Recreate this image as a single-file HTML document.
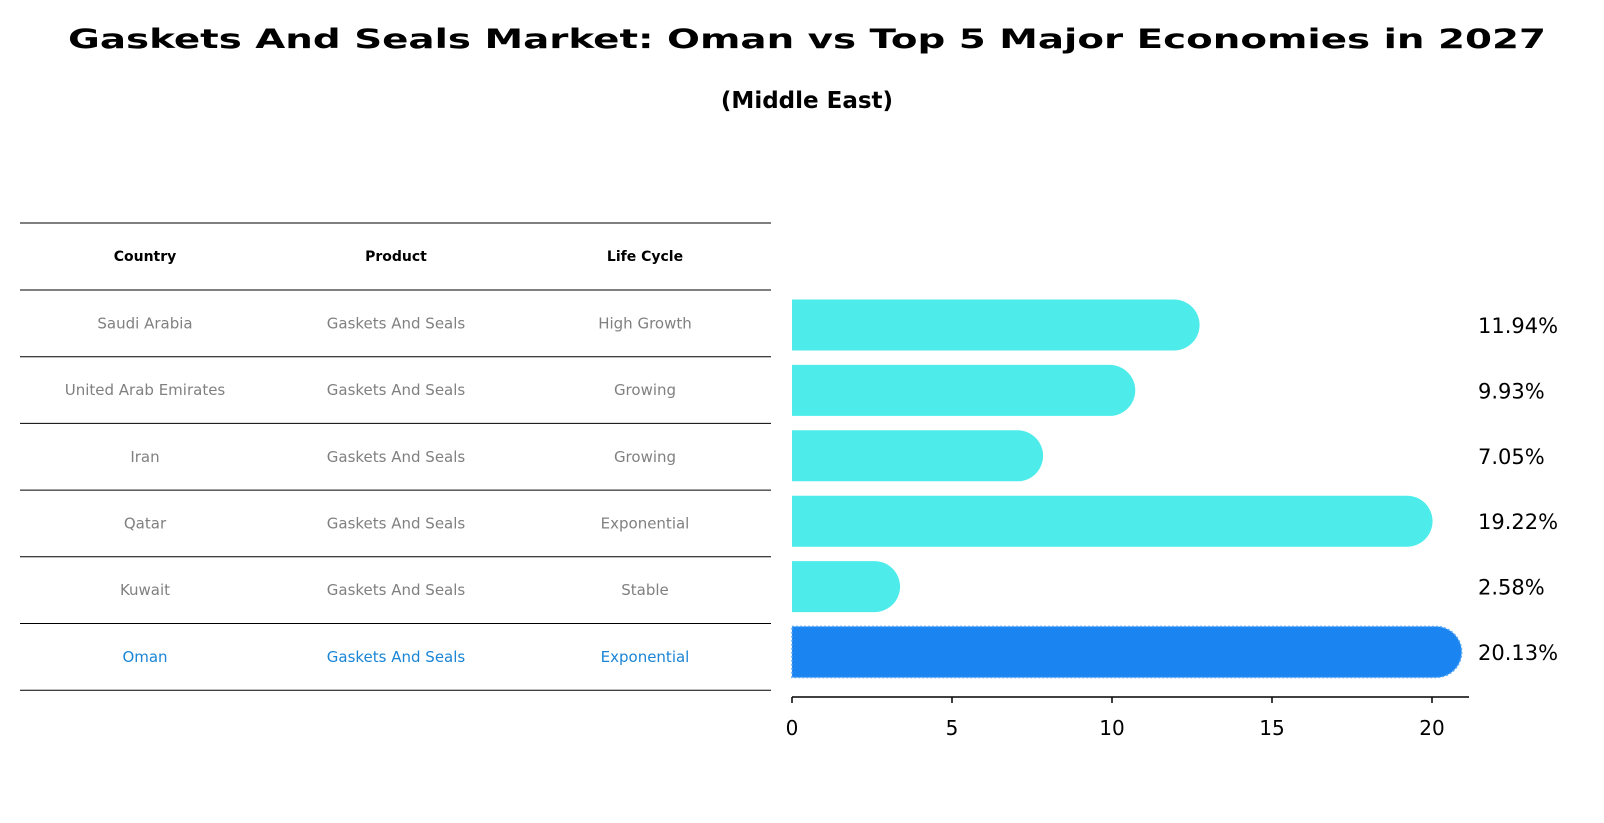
<!DOCTYPE html>
<html><head><meta charset="utf-8"><style>
html,body{margin:0;padding:0;background:#fff;}
svg{display:block;font-family:"DejaVu Sans","Liberation Sans",sans-serif;}
</style></head><body>
<svg id="chart" width="1604" height="823" viewBox="0 0 1604 823">
<text x="807" y="48" text-anchor="middle" font-size="27" font-weight="bold" textLength="1478" lengthAdjust="spacingAndGlyphs">Gaskets And Seals Market: Oman vs Top 5 Major Economies in 2027</text>
<text x="807" y="108" text-anchor="middle" font-size="23" font-weight="bold">(Middle East)</text>
<g id="table"></g>
<g id="bars"></g>
<g id="axis"></g>
</svg>
<script>
const countries = ["Saudi Arabia","United Arab Emirates","Iran","Qatar","Kuwait","Oman"];
const products = ["Gaskets And Seals","Gaskets And Seals","Gaskets And Seals","Gaskets And Seals","Gaskets And Seals","Gaskets And Seals"];
const lifeCycles = ["High Growth","Growing","Growing","Exponential","Stable","Exponential"];
const values = [11.94,9.93,7.05,19.22,2.58,20.13];
const valueLabels = ["11.94%","9.93%","7.05%","19.22%","2.58%","20.13%"];
const ticks = [0,5,10,15,20];

const NS="http://www.w3.org/2000/svg";
function mk(tag,attrs,parent){const e=document.createElementNS(NS,tag);for(const k in attrs)e.setAttribute(k,attrs[k]);parent.appendChild(e);return e;}
const x0=792, pxPerUnit=32;
const xs=v=>x0+v*pxPerUnit;
const rowY=i=>325+i*65.4;
const barH=51;

// table
const tbl=document.getElementById('table');
const lineYs=[223,290];
for(let i=0;i<countries.length;i++) lineYs.push(290+(i+1)*66.7);
lineYs.forEach((y,i)=>{
  const l=mk('line',{x1:20,x2:771,y1:y,y2:y,stroke:'#000','stroke-width':1},tbl);
  
  
});
const colX=[145,396,645];
["Country","Product","Life Cycle"].forEach((h,j)=>{
  const t=mk('text',{x:colX[j],y:261,'text-anchor':'middle','font-size':14,'font-weight':'bold'},tbl);
  t.textContent=h;
  
  
});
countries.forEach((c,i)=>{
  const y=(lineYs[i+1]+lineYs[i+2])/2+5;
  const col=i===countries.length-1?'#1a85d6':'#808080';
  [c,products[i],lifeCycles[i]].forEach((txt,j)=>{
    const t=mk('text',{x:colX[j],y:y,'text-anchor':'middle','font-size':15,fill:col},tbl);
    t.textContent=txt;
    
    
  });
});

// bars
const bars=document.getElementById('bars');
values.forEach((v,i)=>{
  const cy=rowY(i), r=barH/2, xe=xs(v);
  const oman=i===values.length-1;
  const col=oman?'#1a85f0':'#4deceb';
  const p=mk('path',{d:`M${x0},${cy-r} L${xe},${cy-r} A${r},${r} 0 0 1 ${xe},${cy+r} L${x0},${cy+r} Z`,fill:col},bars);
  if(oman){p.setAttribute('stroke','#5aa8f5');p.setAttribute('stroke-dasharray','2,2');p.setAttribute('stroke-width','1.5');}
  
  
  const t=mk('text',{x:1478,y:cy+8,'font-size':21},bars);
  t.textContent=valueLabels[i];
  
  
});

// axis
const ax=document.getElementById('axis');
const al=mk('line',{x1:x0,x2:1469,y1:697,y2:697,stroke:'#000','stroke-width':1.5},ax);


ticks.forEach(tv=>{
  const tl=mk('line',{x1:xs(tv),x2:xs(tv),y1:697,y2:703,stroke:'#000','stroke-width':1.5},ax);
  
  
  const t=mk('text',{x:xs(tv),y:735,'text-anchor':'middle','font-size':20},ax);
  t.textContent=tv;
  
  
});
</script>
</body></html>
